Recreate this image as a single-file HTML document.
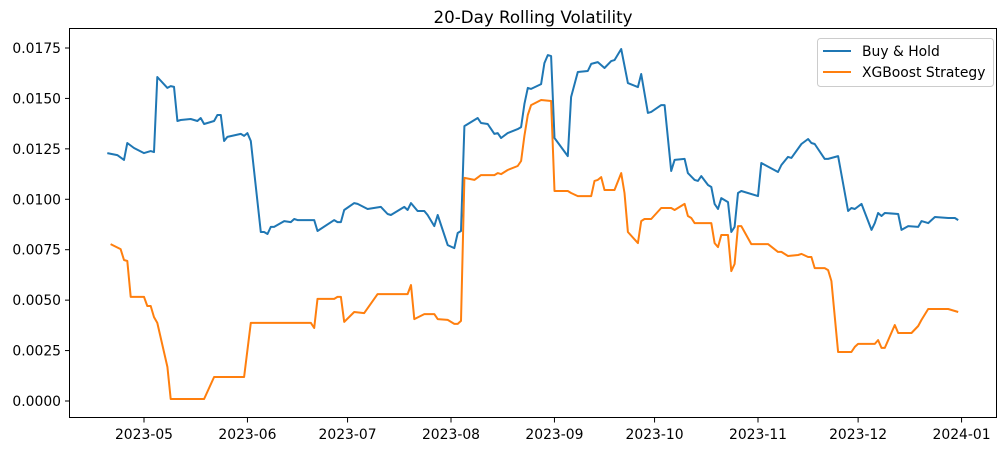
<!DOCTYPE html>
<html><head><meta charset="utf-8"><style>
html,body{margin:0;padding:0;background:#fff;}
svg{display:block;font-family:"DejaVu Sans","Liberation Sans",sans-serif;}
</style></head><body>
<svg id="chart" width="1007" height="451" viewBox="0 0 1007 451" xmlns="http://www.w3.org/2000/svg">
<rect x="0" y="0" width="1007" height="451" fill="#fff"/>
<text x="533" y="23" text-anchor="middle" font-size="16.7" fill="#000">20-Day Rolling Volatility</text>
<g id="grid"></g>
<g id="series"></g>
<rect x="69.5" y="28.5" width="927" height="389" fill="none" stroke="#000" stroke-width="1"/>
<g>
<rect x="817.5" y="38.5" width="176" height="48" rx="3" fill="#fff" fill-opacity="0.8" stroke="#ccc"/>
<g><line x1="823" y1="51" x2="851" y2="51" stroke="#1f77b4" stroke-width="2"/><text x="862" y="56" font-size="13.9" fill="#000">Buy &amp; Hold</text></g>
<g><line x1="823" y1="72" x2="851" y2="72" stroke="#ff7f0e" stroke-width="2"/><text x="862" y="77" font-size="13.9" fill="#000">XGBoost Strategy</text></g>
</g>
</svg>
<script>
// days since 2023-05-01
const bhDays=[-11,-8,-6,-5,-3,0,2,3,4,7,8,9,10,11,14,16,17,18,21,22,23,24,25,29,30,31,32,35,36,37,38,39,42,44,45,46,51,52,57,58,59,60,63,64,67,71,73,74,78,79,80,82,84,85,87,88,91,93,94,95,96,100,101,103,105,106,107,109,112,113,114,115,116,119,120,121,122,123,127,128,130,133,134,136,138,140,141,143,145,148,149,151,152,155,156,158,159,162,163,165,166,167,169,170,171,172,173,175,176,177,178,179,184,185,190,191,193,194,197,199,200,201,204,205,208,211,212,213,215,218,219,220,221,222,226,227,229,232,233,235,237,241,243,244];
const bhVals=[0.01229,0.01219,0.01195,0.01279,0.01254,0.01229,0.01239,0.01234,0.01606,0.01552,0.01561,0.01557,0.01388,0.01393,0.01398,0.01388,0.01403,0.01373,0.01388,0.01418,0.01418,0.01289,0.01309,0.01324,0.01314,0.01328,0.01289,0.00838,0.00838,0.00828,0.00863,0.00863,0.00892,0.00887,0.00902,0.00897,0.00897,0.00843,0.00897,0.00887,0.00887,0.00947,0.00981,0.00977,0.00952,0.00962,0.00927,0.00922,0.00962,0.00947,0.00981,0.00942,0.00942,0.00922,0.00867,0.00922,0.00773,0.00758,0.00833,0.00843,0.01363,0.01403,0.01378,0.01373,0.01324,0.01328,0.01304,0.01328,0.01348,0.01358,0.01472,0.01552,0.01547,0.01571,0.01675,0.01715,0.01710,0.01304,0.01214,0.01507,0.01631,0.01636,0.01671,0.01680,0.01651,0.01685,0.01690,0.01745,0.01576,0.01556,0.01621,0.01428,0.01433,0.01467,0.01467,0.01140,0.01195,0.01200,0.01130,0.01096,0.01091,0.01115,0.01071,0.01061,0.00977,0.00952,0.01006,0.00986,0.00838,0.00863,0.01031,0.01041,0.01016,0.01180,0.01135,0.01170,0.01210,0.01205,0.01274,0.01299,0.01279,0.01274,0.01200,0.01200,0.01214,0.00942,0.00957,0.00952,0.00977,0.00848,0.00882,0.00932,0.00917,0.00932,0.00927,0.00848,0.00867,0.00863,0.00892,0.00882,0.00912,0.00907,0.00907,0.00897,0.00907];
const xgDays=[-10,-7,-6,-5,-4,0,1,2,3,4,7,8,18,21,30,32,50,51,52,57,58,59,60,63,66,70,79,80,81,84,87,88,91,93,94,95,96,99,101,105,106,107,109,112,113,114,115,116,119,122,123,127,128,130,134,135,136,137,138,141,143,144,145,148,149,150,152,155,158,159,162,163,164,165,170,171,172,173,175,176,177,178,179,182,187,190,191,193,196,197,199,200,201,204,205,206,208,212,213,214,219,220,221,222,225,226,230,232,233,235,241,244];
const xgVals=[0.00778,0.00753,0.00699,0.00694,0.00516,0.00516,0.00471,0.00471,0.00416,0.00387,0.00169,0.0001,0.0001,0.00119,0.00119,0.00387,0.00387,0.00362,0.00506,0.00506,0.00516,0.00516,0.00392,0.00441,0.00436,0.00530,0.00530,0.00575,0.00406,0.00431,0.00431,0.00406,0.00402,0.00382,0.00382,0.00397,0.01106,0.01096,0.01120,0.01120,0.01130,0.01125,0.01145,0.01165,0.01190,0.01314,0.01418,0.01467,0.01492,0.01487,0.01041,0.01041,0.01031,0.01016,0.01016,0.01091,0.01096,0.01110,0.01046,0.01046,0.01130,0.01031,0.00838,0.00783,0.00892,0.00902,0.00902,0.00957,0.00957,0.00947,0.00977,0.00917,0.00907,0.00882,0.00882,0.00783,0.00763,0.00823,0.00823,0.00644,0.00679,0.00867,0.00867,0.00778,0.00778,0.00739,0.00739,0.00719,0.00724,0.00729,0.00714,0.00714,0.00659,0.00659,0.00649,0.00595,0.00243,0.00243,0.00268,0.00283,0.00283,0.00302,0.00263,0.00263,0.00377,0.00337,0.00337,0.00372,0.00402,0.00456,0.00456,0.00441];
const yTicks=[0,0.0025,0.005,0.0075,0.01,0.0125,0.015,0.0175];
const xTickDays=[0,31,61,92,123,153,184,214,245];
const xTickLabels=["2023-05","2023-06","2023-07","2023-08","2023-09","2023-10","2023-11","2023-12","2024-01"];

const NS="http://www.w3.org/2000/svg";
const X=d=>144+d*3.337;
const Y=v=>401-v/0.0025*50.43;
const grid=document.getElementById('grid');
const ser=document.getElementById('series');
function mk(tag,attrs,parent){const e=document.createElementNS(NS,tag);for(const k in attrs)e.setAttribute(k,attrs[k]);parent.appendChild(e);return e;}
yTicks.forEach(v=>{
  const y=Y(v);
  const t=mk('line',{x1:65,x2:69.5,y1:y,y2:y,stroke:'#000'},grid);
  
  
  const l=mk('text',{x:61,y:y+5,'text-anchor':'end','font-size':'13.9',fill:'#000'},grid);
  l.textContent=v.toFixed(4);
  
  
});
xTickDays.forEach((d,i)=>{
  const x=X(d);
  const t=mk('line',{x1:x,x2:x,y1:418,y2:422.5,stroke:'#000'},grid);
  
  
  const l=mk('text',{x:x,y:439,'text-anchor':'middle','font-size':'13.9',fill:'#000'},grid);
  l.textContent=xTickLabels[i];
  
  
});
function line(days,vals,color,name){
  const d=days.map((dd,i)=>(i?'L':'M')+X(dd).toFixed(1)+','+Y(vals[i]).toFixed(1)).join('');
  const p=mk('path',{d:d,fill:'none',stroke:color,'stroke-width':2,'stroke-linejoin':'round'},ser);
  
  
}
line(bhDays,bhVals,'#1f77b4','buy-hold-line');
line(xgDays,xgVals,'#ff7f0e','xgboost-line');
</script>
</body></html>
